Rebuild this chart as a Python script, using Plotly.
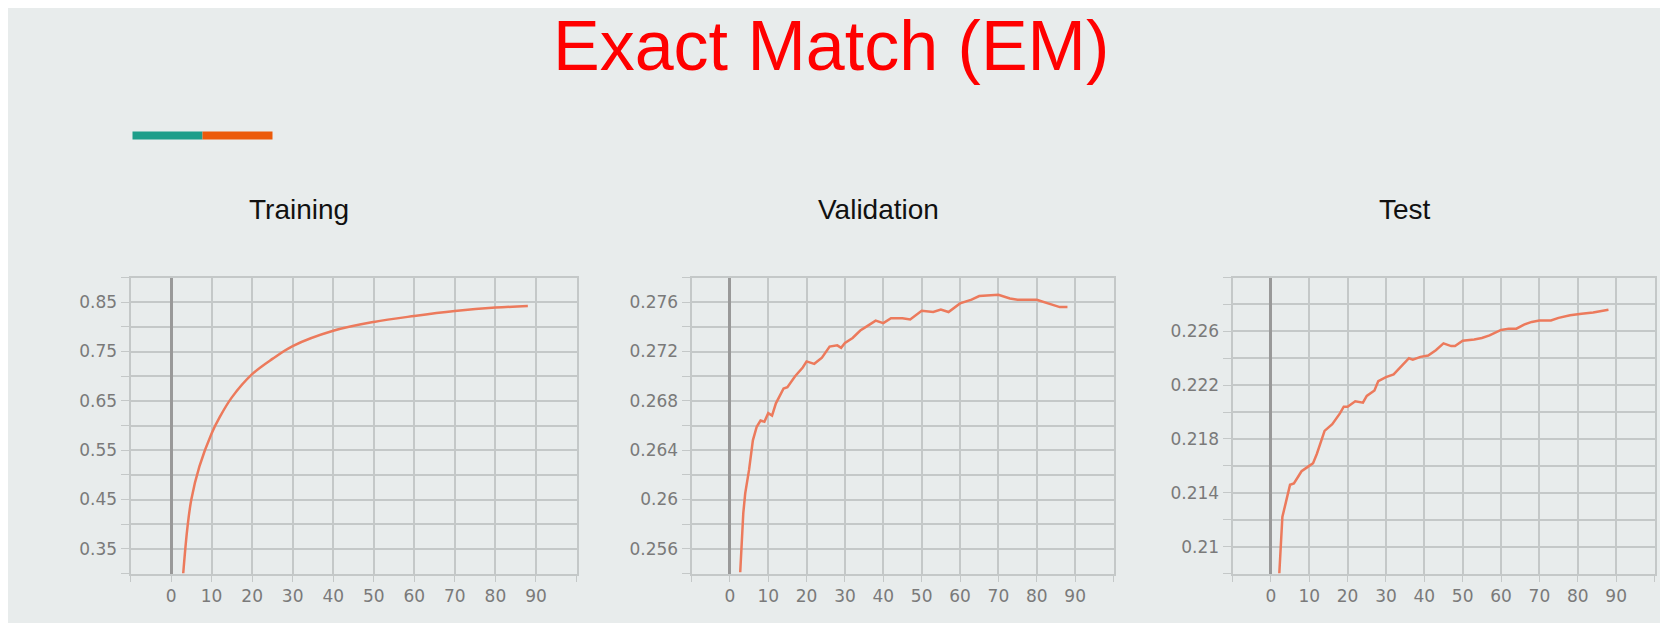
import plotly.graph_objects as go

# epoch / value readings for each panel
train_x = [3, 4, 5, 7, 10, 12, 15, 20, 25, 30, 40, 50, 60, 70, 80, 88]
train_y = [0.300, 0.390, 0.450, 0.517, 0.584, 0.617, 0.657, 0.704, 0.735, 0.761,
           0.792, 0.810, 0.822, 0.832, 0.839, 0.842]

val_x = [2.7, 3.5, 4, 5, 6, 7, 8, 9, 10, 11, 12, 14, 15, 17, 19, 20, 22, 24, 26, 28,
         29, 30, 32, 34, 36, 38, 40, 42, 45, 47, 50, 53, 55, 57, 60, 63, 65, 70, 73,
         75, 80, 83, 86, 88]
val_y = [0.2541, 0.2589, 0.2605, 0.2624, 0.2648, 0.2659, 0.2664, 0.2663, 0.2670, 0.2668,
         0.2678, 0.2690, 0.2691, 0.2700, 0.2707, 0.2712, 0.2710, 0.2715, 0.2724, 0.2725,
         0.2723, 0.2727, 0.2731, 0.2737, 0.2741, 0.2745, 0.2743, 0.2747, 0.2747, 0.2746,
         0.2753, 0.2752, 0.2754, 0.2752, 0.2759, 0.2762, 0.2765, 0.2766, 0.2763, 0.2762,
         0.2762, 0.2759, 0.2756, 0.2756]

test_x = [2.2, 3, 4, 5, 6, 8, 10, 11, 12, 14, 16, 18, 19, 20, 22, 24, 25, 27, 28, 30,
          32, 34, 36, 37, 39, 41, 43, 45, 47, 48, 50, 53, 55, 57, 60, 62, 64, 66, 68,
          70, 73, 75, 78, 81, 84, 88]
test_y = [0.2080, 0.2122, 0.2134, 0.2146, 0.2147, 0.2156, 0.2160, 0.2162, 0.2169, 0.2186,
          0.2191, 0.2199, 0.2204, 0.2204, 0.2208, 0.2207, 0.2212, 0.2216, 0.2223, 0.2226,
          0.2228, 0.2234, 0.2240, 0.2239, 0.2241, 0.2242, 0.2246, 0.2251, 0.2249, 0.2249,
          0.2253, 0.2254, 0.2255, 0.2257, 0.2261, 0.2262, 0.2262, 0.2265, 0.2267, 0.2268,
          0.2268, 0.2270, 0.2272, 0.2273, 0.2274, 0.2276]

panel_titles = ["Training", "Validation", "Test"]
x_ticks = list(range(-10, 101, 10))
x_labels = ["" if t in (-10, 100) else str(t) for t in x_ticks]

bg = "#e8ecec"
grid = "#c4c8c8"
line_col = "#ec7a5c"
tick_col = "#7a7a7a"

W, H = 1668, 623
DX, DY = -7.5, -7.5   # pixel nudge

def px(x):
    return (x + DX) / W

def py(y):
    return 1 - (y + DY) / H

y_setup = [
    (0.30, 0.90, 0.05, [0.35, 0.45, 0.55, 0.65, 0.75, 0.85], "{:.2f}"),
    (0.254, 0.278, 0.002, [0.256, 0.26, 0.264, 0.268, 0.272, 0.276], "{:g}"),
    (0.208, 0.230, 0.002, [0.21, 0.214, 0.218, 0.222, 0.226], "{:g}"),
]
x_domains = [[px(130), px(576)], [px(691), px(1113)], [px(1232), px(1654)]]
y_domain = [py(573), py(277)]

fig = go.Figure()
series = [(train_x, train_y), (val_x, val_y), (test_x, test_y)]
layout = {}
for i, (xs, ys) in enumerate(series):
    n = "" if i == 0 else str(i + 1)
    fig.add_trace(go.Scatter(x=xs, y=ys, mode="lines", xaxis="x" + n, yaxis="y" + n,
                             line=dict(color=line_col, width=2.5,
                                       shape="spline" if i == 0 else "linear"),
                             showlegend=False))
    lo, hi, step, labeled, fmt = y_setup[i]
    yt = []
    v = lo
    while v <= hi + step / 2:
        yt.append(round(v, 4))
        v += step
    ytext = [fmt.format(t) if any(abs(t - l) < 1e-6 for l in labeled) else "" for t in yt]
    layout["xaxis" + n] = dict(domain=x_domains[i], anchor="y" + n, range=[-10, 100],
                               tickvals=x_ticks, ticktext=x_labels, showgrid=True,
                               gridcolor=grid, gridwidth=1.5, zeroline=True,
                               zerolinecolor="#999", zerolinewidth=2.5,
                               showline=True, linecolor=grid, linewidth=2, mirror=True,
                               ticks="outside", ticklen=6, tickcolor=grid,
                               tickfont=dict(family="DejaVu Sans", size=17, color=tick_col))
    layout["yaxis" + n] = dict(domain=y_domain, anchor="x" + n, range=[lo, hi],
                               tickvals=yt, ticktext=ytext, showgrid=True,
                               gridcolor=grid, gridwidth=1.5, zeroline=False,
                               showline=True, linecolor=grid, linewidth=2, mirror=True,
                               ticks="outside", ticklen=8, tickcolor=grid,
                               tickfont=dict(family="DejaVu Sans", size=17, color=tick_col))

title_x = [298, 878, 1404]
annotations = [dict(text="Exact Match (EM)", x=px(830), y=1.005, xref="paper", yref="paper",
                    xanchor="center", yanchor="top", showarrow=False,
                    font=dict(family="Liberation Sans", size=70, color="#ff0000"))]
for t, tx in zip(panel_titles, title_x):
    annotations.append(dict(text=t, x=px(tx), y=py(209), xref="paper", yref="paper",
                            xanchor="center", yanchor="middle", showarrow=False,
                            font=dict(family="Liberation Sans", size=28, color="#111")))

shapes = [
    dict(type="line", xref="paper", yref="paper", x0=px(132), x1=px(202),
         y0=py(135), y1=py(135), line=dict(color="#1e9e8a", width=8)),
    dict(type="line", xref="paper", yref="paper", x0=px(202), x1=px(272),
         y0=py(135), y1=py(135), line=dict(color="#ec5a0a", width=8)),
]

fig.update_layout(**layout, annotations=annotations, shapes=shapes,
                  width=W, height=H, margin=dict(l=0, r=0, t=0, b=0),
                  paper_bgcolor=bg, plot_bgcolor=bg)
fig.write_html("out.html")
